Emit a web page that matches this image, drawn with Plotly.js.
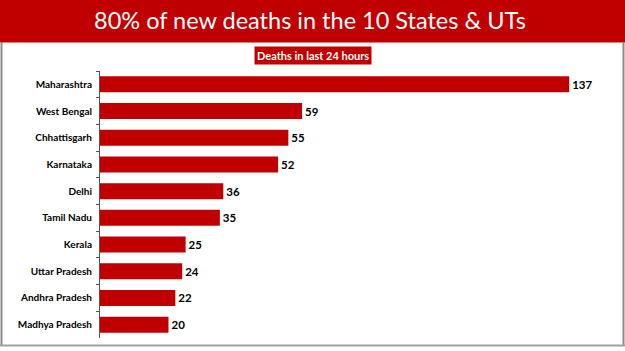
<!DOCTYPE html>
<html>
<head>
<meta charset="utf-8">
<script src="https://cdn.plot.ly/plotly-3.0.1.min.js"></script>
<style>
html,body{margin:0;padding:0;background:#fff;}
#chart{width:625px;height:351px;}
</style>
</head>
<body>
<div id="chart"></div>
<script>
const states = ["Maharashtra","West Bengal","Chhattisgarh","Karnataka","Delhi","Tamil Nadu","Kerala","Uttar Pradesh","Andhra Pradesh","Madhya Pradesh"];
const deaths = [137,59,55,52,36,35,25,24,22,20];
const chartTitle = "80% of new deaths in the 10 States & UTs";
const subTitle = "Deaths in last 24 hours";

const W = 625, H = 351;
const mL = 100, mR = 13, mT = 71, mB = 13;
const pw = W - mL - mR, ph = H - mT - mB;
const px = x => (x - mL) / pw;
const py = y => (H - mB - y) / ph;

const red = "#C00000";

const trace = {
  type: "bar",
  orientation: "h",
  y: states,
  x: deaths,
  marker: {color: red},
  width: 0.6,
  text: deaths.map(String),
  textposition: "outside",
  cliponaxis: false,
  textfont: {family: "Lato, sans-serif", size: 11.5, color: "#000", weight: "bold"},
  hoverinfo: "none"
};

const layout = {
  width: W, height: H,
  margin: {l: mL, r: mR, t: mT, b: mB, pad: 0},
  paper_bgcolor: "#fff",
  plot_bgcolor: "#fff",
  showlegend: false,
  title: {
    text: chartTitle,
    font: {family: "Lato, sans-serif", size: 23.5, color: "#fff"},
    x: 0.496, xref: "container", xanchor: "center",
    y: 1 - 21/H, yref: "container", yanchor: "middle"
  },
  xaxis: {
    range: [0, 149.5],
    visible: false,
    fixedrange: true
  },
  yaxis: {
    autorange: "reversed",
    type: "category",
    showline: true,
    linecolor: "#555",
    linewidth: 1,
    ticks: "outside",
    tickson: "boundaries",
    ticklen: 3,
    tickcolor: "#555",
    showgrid: false,
    ticklabelstandoff: 5,
    tickfont: {family: "Lato, sans-serif", size: 10, color: "#000", weight: "bold"},
    fixedrange: true
  },
  shapes: [
    {type: "rect", xref: "paper", yref: "paper", x0: px(0), x1: px(W), y0: py(42.5), y1: py(0), fillcolor: red, line: {width: 0}, layer: "below"},
    {type: "line", xref: "paper", yref: "paper", x0: px(1.5), x1: px(1.5), y0: py(42), y1: py(346), line: {color: "#8a8a8a", width: 2}},
    {type: "line", xref: "paper", yref: "paper", x0: px(623.5), x1: px(623.5), y0: py(42), y1: py(346), line: {color: "#8a8a8a", width: 2}},
    {type: "line", xref: "paper", yref: "paper", x0: px(0), x1: px(625), y0: py(345.5), y1: py(345.5), line: {color: "#a0a0a0", width: 2}}
  ],
  annotations: [
    {
      text: "<b>" + subTitle + "</b>",
      xref: "paper", yref: "paper",
      x: px(312.5), y: py(55),
      xanchor: "center", yanchor: "middle",
      showarrow: false,
      bgcolor: red,
      borderpad: 2,
      font: {family: "Lato, sans-serif", size: 11, color: "#fff"}
    }
  ]
};

Plotly.newPlot("chart", [trace], layout, {displayModeBar: false, staticPlot: true});
</script>
</body>
</html>
